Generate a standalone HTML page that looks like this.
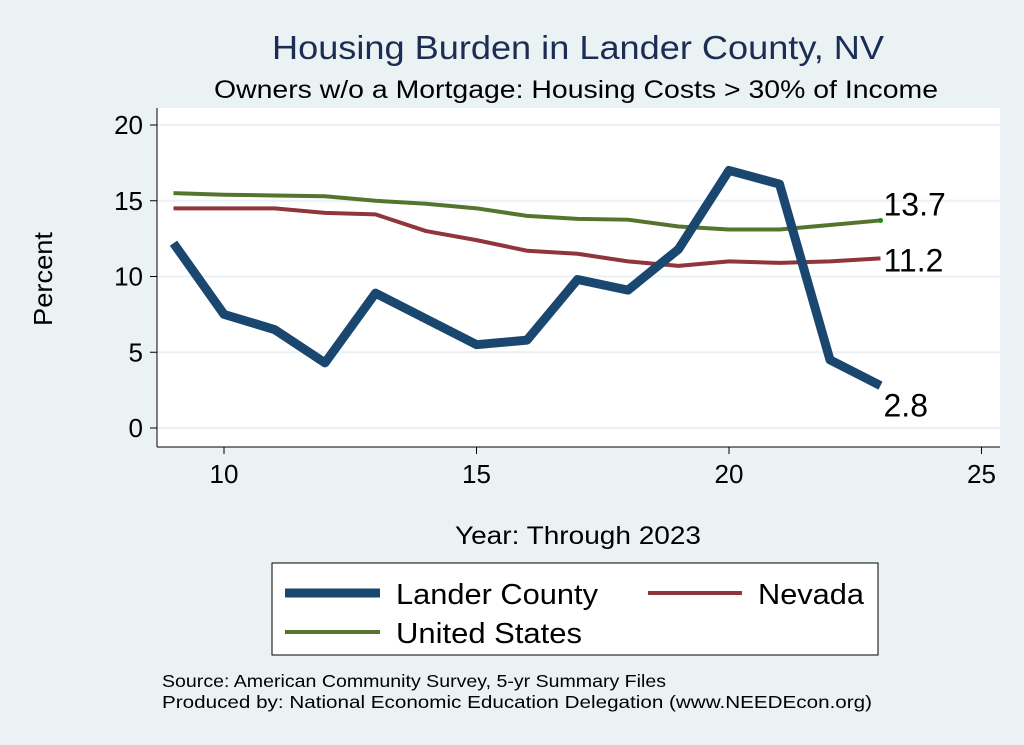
<!DOCTYPE html>
<html><head><meta charset="utf-8"><style>
body{margin:0;background:#eaf2f3;}
svg{display:block;font-family:"Liberation Sans",Arial,sans-serif;}
</style></head><body>
<svg id="chart" width="1024" height="745" viewBox="0 0 1024 745">
<rect x="0" y="0" width="1024" height="745" fill="#eaf2f3"/>
<rect x="157" y="108" width="843" height="339" fill="#ffffff"/>
<text x="272" y="59" font-size="33" fill="#1c2d55" textLength="612" lengthAdjust="spacingAndGlyphs">Housing Burden in Lander County, NV</text>
<text x="214" y="98" font-size="25" fill="#000" textLength="724" lengthAdjust="spacingAndGlyphs">Owners w/o a Mortgage: Housing Costs &gt; 30% of Income</text>
<g id="grid"></g>
<g id="axes"></g>
<g id="series"></g>
<text x="52" y="279" text-anchor="middle" font-size="26" textLength="94" lengthAdjust="spacingAndGlyphs" transform="rotate(-90 52 279)">Percent</text>
<text x="455" y="544" font-size="25" textLength="246" lengthAdjust="spacingAndGlyphs">Year: Through 2023</text>
<g>
<rect x="272" y="563" width="606" height="92" fill="#fff" stroke="#000" stroke-width="1"/>
<line x1="285" y1="593" x2="380" y2="593" stroke="#1a476f" stroke-width="9"/>
<text x="396" y="604" font-size="29" textLength="202" lengthAdjust="spacingAndGlyphs">Lander County</text>
<line x1="648" y1="593" x2="742" y2="593" stroke="#90353b" stroke-width="4"/>
<text x="758" y="604" font-size="29" textLength="106" lengthAdjust="spacingAndGlyphs">Nevada</text>
<line x1="285" y1="632" x2="380" y2="632" stroke="#55752f" stroke-width="4"/>
<text x="396" y="643" font-size="29" textLength="186" lengthAdjust="spacingAndGlyphs">United States</text>
</g>
<text x="162" y="687" font-size="17.5" textLength="504" lengthAdjust="spacingAndGlyphs">Source: American Community Survey, 5-yr Summary Files</text>
<text x="162" y="708" font-size="17.5" textLength="710" lengthAdjust="spacingAndGlyphs">Produced by: National Economic Education Delegation (www.NEEDEcon.org)</text>
</svg>
<script>
const years=[9,10,11,12,13,14,15,16,17,18,19,20,21,22,23];
const landerValues=[12.2,7.5,6.5,4.3,8.9,7.2,5.5,5.8,9.8,9.1,11.8,17.0,16.1,4.5,2.8];
const nevadaValues=[14.5,14.5,14.5,14.2,14.1,13.0,12.4,11.7,11.5,11.0,10.7,11.0,10.9,11.0,11.2];
const usValues=[15.5,15.4,15.35,15.3,15.0,14.8,14.5,14.0,13.8,13.75,13.3,13.1,13.1,13.4,13.7];
const xTicks=[10,15,20,25];
const yTicks=[0,5,10,15,20];
const NS="http://www.w3.org/2000/svg";
const xs=v=>224+(v-10)*50.5;
const ys=v=>428-v*15.15;
function mk(t,a,p){const e=document.createElementNS(NS,t);for(const k in a)e.setAttribute(k,a[k]);p.appendChild(e);return e;}
const grid=document.getElementById('grid'),axes=document.getElementById('axes'),ser=document.getElementById('series');
mk('line',{x1:157,y1:447,x2:1000,y2:447,stroke:'#000'},axes);
mk('line',{x1:157,y1:108,x2:157,y2:447,stroke:'#000'},axes);
yTicks.forEach(t=>{
 const g=mk('line',{x1:157,x2:1000,y1:ys(t),y2:ys(t),stroke:'#eaf2f3','stroke-width':2},grid);
 
 
 mk('line',{x1:150,x2:157,y1:ys(t),y2:ys(t),stroke:'#000'},axes);
 const tx=mk('text',{x:143,y:ys(t)+9,'text-anchor':'end','font-size':26},axes);tx.textContent=t;
 
 
});
xTicks.forEach(t=>{
 mk('line',{x1:xs(t),x2:xs(t),y1:447,y2:454,stroke:'#000'},axes);
 const tx=mk('text',{x:xs(t),y:483,'text-anchor':'middle','font-size':26},axes);tx.textContent=t;
 
 
});
function line(vals,color,w,name){
 const p=mk('polyline',{points:years.map((y,i)=>xs(y)+','+ys(vals[i])).join(' '),fill:'none',stroke:color,'stroke-width':w,'stroke-linejoin':'round'},ser);
 
 
}
line(usValues,'#55752f',4,'us-line');
line(nevadaValues,'#90353b',4,'nevada-line');
line(landerValues,'#1a476f',9,'lander-line');
const last=years.length-1;
const dot=mk('circle',{cx:xs(years[last]),cy:ys(usValues[last]),r:2.5,fill:'#1a8a1a'},ser);


[[usValues,-5,'label-us'],[nevadaValues,13,'label-nevada'],[landerValues,31,'label-lander']].forEach(([v,dy,n])=>{
 const tx=mk('text',{x:xs(years[last])+3,y:ys(v[last])+dy,'font-size':32},ser);
 tx.textContent=v[last].toFixed(1);
 
 
});
</script>
</body></html>
